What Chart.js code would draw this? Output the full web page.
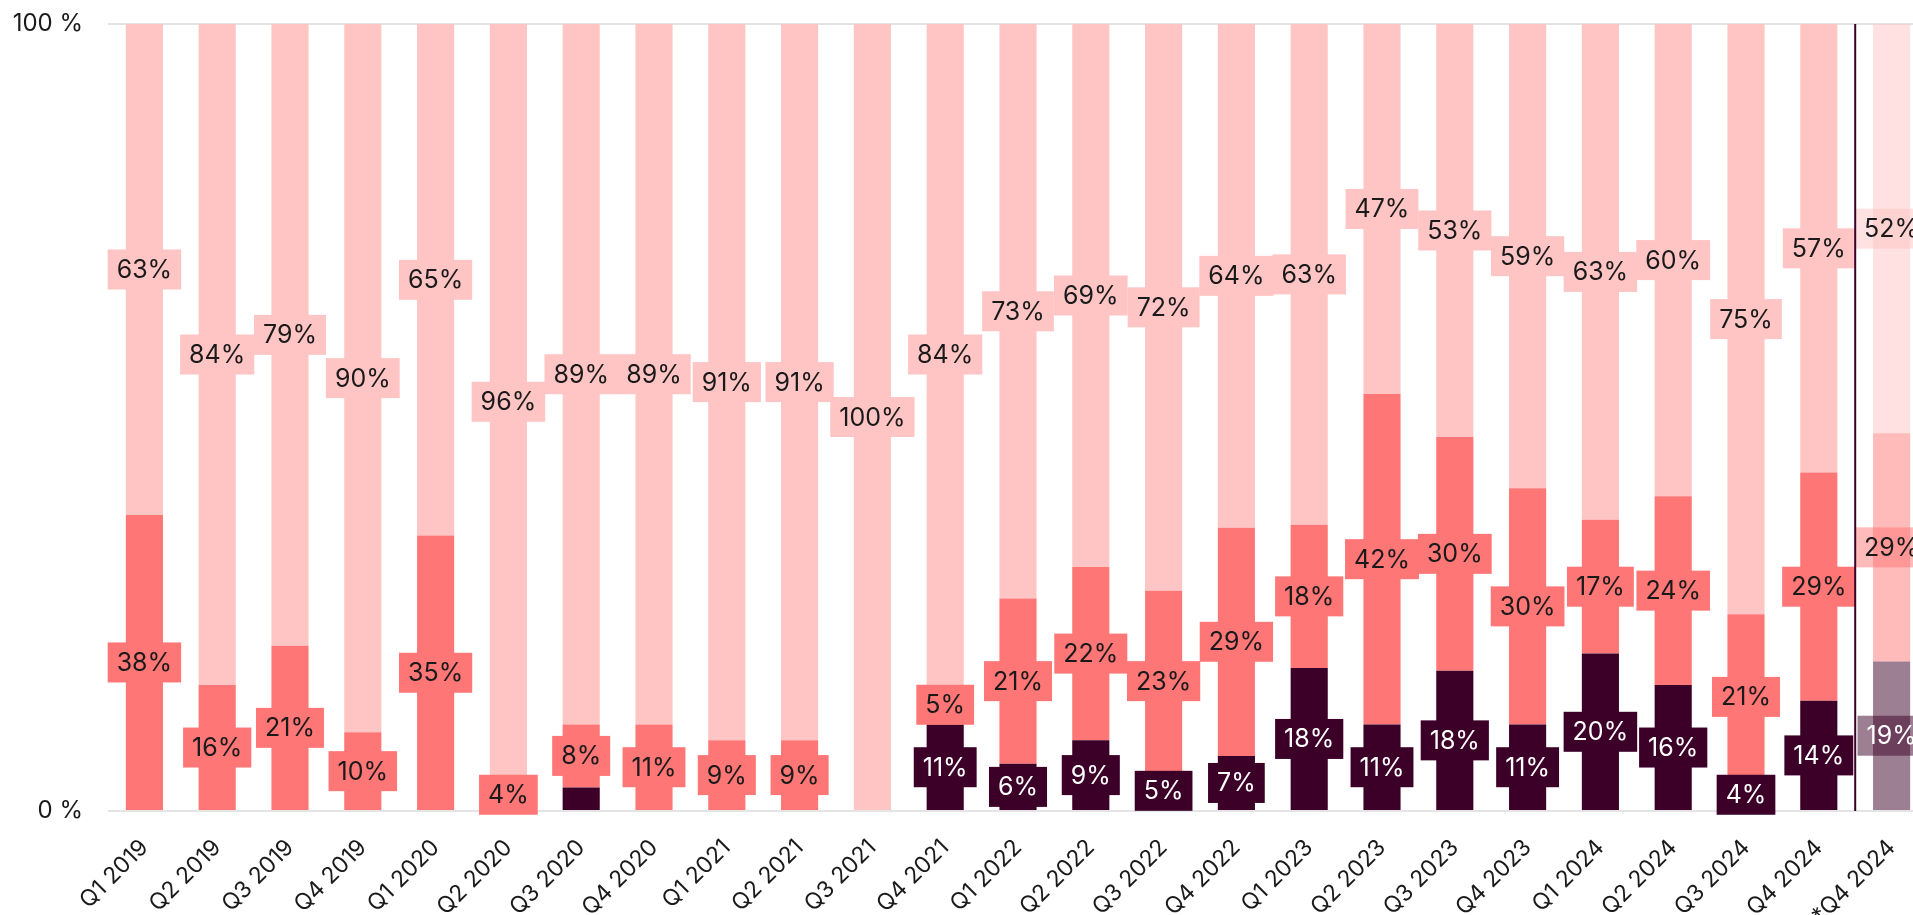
<!DOCTYPE html>
<html>
<head>
<meta charset="utf-8">
<script src="https://cdn.jsdelivr.net/npm/chart.js@4.4.1/dist/chart.umd.min.js"></script>
<style>
  html, body { margin: 0; padding: 0; background: #fff; overflow: hidden; }
  /* plot runs a little past the right edge of the window */
  #wrap { width: 1928px; height: 915px; }
</style>
</head>
<body>
<div id="wrap"><canvas id="chart"></canvas></div>
<script>
const quarters = [
  'Q1 2019', 'Q2 2019', 'Q3 2019', 'Q4 2019',
  'Q1 2020', 'Q2 2020', 'Q3 2020', 'Q4 2020',
  'Q1 2021', 'Q2 2021', 'Q3 2021', 'Q4 2021',
  'Q1 2022', 'Q2 2022', 'Q3 2022', 'Q4 2022',
  'Q1 2023', 'Q2 2023', 'Q3 2023', 'Q4 2023',
  'Q1 2024', 'Q2 2024', 'Q3 2024', 'Q4 2024',
  '*Q4 2024'
];

// shares in percent, bottom to top (rounded, so a column may total 99-101)
const darkShare  = [0, 0, 0, 0, 0, 0, 3, 0, 0, 0, 0, 11, 6, 9, 5, 7, 18, 11, 18, 11, 20, 16, 4, 14, 19];
const midShare   = [38, 16, 21, 10, 35, 4, 8, 11, 9, 9, 0, 5, 21, 22, 23, 29, 18, 42, 30, 30, 17, 24, 21, 29, 29];
const lightShare = [63, 84, 79, 90, 65, 96, 89, 89, 91, 91, 100, 84, 73, 69, 72, 64, 63, 47, 53, 59, 63, 60, 75, 57, 52];

const yTicks = [0, 100];

const FONT = 'Inter, "Noto Sans", sans-serif';
const last = quarters.length - 1;

// every column is scaled to fill 0-100
const totals = quarters.map((q, i) => darkShare[i] + midShare[i] + lightShare[i]);
const toFull = arr => arr.map((v, i) => v / totals[i] * 100);

// the starred quarter is drawn at half strength
function shade(rgb) {
  return quarters.map((q, i) => i === last ? 'rgba(' + rgb + ',0.5)' : 'rgb(' + rgb + ')');
}

const boxLabels = {
  id: 'boxLabels',
  afterDatasetsDraw(chart) {
    const ctx = chart.ctx;
    ctx.save();
    ctx.font = '25px ' + FONT;
    ctx.textAlign = 'center';
    ctx.textBaseline = 'middle';
    chart.data.datasets.forEach((ds, di) => {
      chart.getDatasetMeta(di).data.forEach((bar, i) => {
        const v = ds.shares[i];
        if (v < 4) return;
        const text = v + '%';
        const cy = (bar.y + bar.base) / 2;
        const w = ctx.measureText(text).width + 18;
        const h = 40;
        ctx.fillStyle = ds.backgroundColor[i];
        ctx.fillRect(bar.x - w / 2, cy - h / 2, w, h);
        ctx.fillStyle = ds.labelColor;
        ctx.fillText(text, bar.x, cy + 1);
      });
    });
    ctx.restore();
  }
};

// thin rule separating the starred quarter
const divider = {
  id: 'divider',
  afterDatasetsDraw(chart) {
    const x = chart.scales.x;
    const px = (x.getPixelForValue(last - 1) + x.getPixelForValue(last)) / 2;
    const ctx = chart.ctx;
    ctx.save();
    ctx.strokeStyle = '#3c0028';
    ctx.lineWidth = 2;
    ctx.beginPath();
    ctx.moveTo(px, chart.chartArea.top);
    ctx.lineTo(px, chart.chartArea.bottom);
    ctx.stroke();
    ctx.restore();
  }
};

new Chart(document.getElementById('chart'), {
  type: 'bar',
  data: {
    labels: quarters,
    datasets: [
      { data: toFull(darkShare), shares: darkShare, backgroundColor: shade('60,0,40'), labelColor: '#ffffff' },
      { data: toFull(midShare), shares: midShare, backgroundColor: shade('255,118,118'), labelColor: '#1a1a1a' },
      { data: toFull(lightShare), shares: lightShare, backgroundColor: shade('255,196,196'), labelColor: '#1a1a1a' }
    ]
  },
  options: {
    responsive: true,
    maintainAspectRatio: false,
    animation: false,
    layout: { padding: { top: 24, left: 0, right: 0, bottom: 0 } },
    datasets: {
      bar: { barPercentage: 0.51, categoryPercentage: 1, borderWidth: 0 }
    },
    plugins: {
      legend: { display: false },
      tooltip: { enabled: false }
    },
    scales: {
      x: {
        stacked: true,
        grid: { display: false },
        border: { display: false },
        ticks: {
          autoSkip: false,
          maxRotation: 45,
          minRotation: 45,
          padding: 15,
          color: '#1a1a1a',
          font: { family: FONT, size: 23 }
        },
        afterFit(s) {
          s.height = 104;
          s.paddingLeft = 0;
          s.paddingRight = 0;
        }
      },
      y: {
        stacked: true,
        min: 0,
        max: 100,
        afterBuildTicks(s) { s.ticks = yTicks.map(v => ({ value: v })); },
        grid: { color: '#e4e4e4', lineWidth: 2, drawTicks: false },
        border: { display: false },
        ticks: {
          padding: 25,
          color: '#1a1a1a',
          font: { family: FONT, size: 24 },
          callback: v => v + ' %'
        },
        afterFit(s) {
          s.width = 108;
          s.paddingTop = 0;
          s.paddingBottom = 0;
        }
      }
    }
  },
  plugins: [boxLabels, divider]
});
</script>
</body>
</html>
